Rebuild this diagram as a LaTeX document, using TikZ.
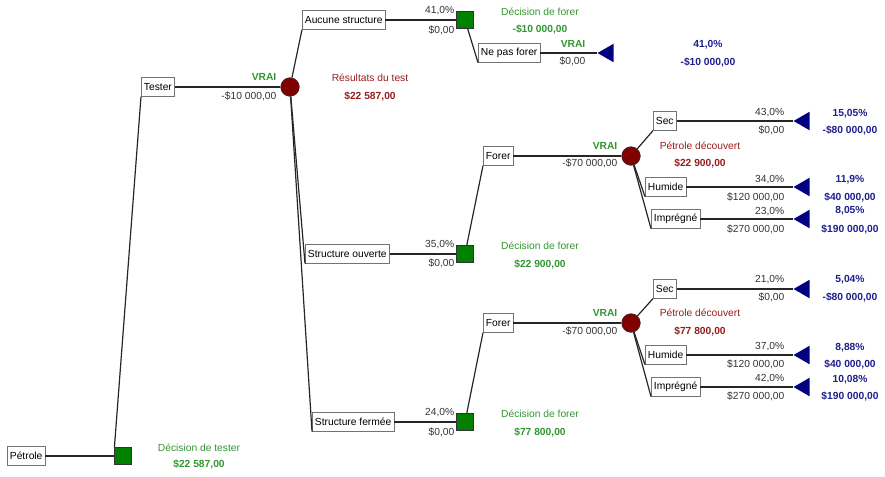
\documentclass[tikz,border=0pt]{standalone}
\usepackage{fontspec}
\usetikzlibrary{shapes.geometric}
\setmainfont{Liberation Sans}
\definecolor{dg}{RGB}{0,128,0}
\definecolor{tg}{RGB}{50,150,50}
\definecolor{dr}{RGB}{128,0,0}
\definecolor{tr}{RGB}{150,30,30}
\definecolor{nv}{RGB}{0,0,128}
\definecolor{tb}{RGB}{30,30,140}
\begin{document}
\begin{tikzpicture}[x=0.75pt,y=-0.75pt,font=\fontsize{7.7}{9}\selectfont,
 box/.style={draw=black!55,fill=white,anchor=west,inner sep=2pt,minimum height=14pt},
 dec/.style={draw=black!80,fill=dg,minimum size=12.5pt,inner sep=0},
 cha/.style={circle,draw=black!80,fill=dr,minimum size=14pt,inner sep=0},
 ter/.style={draw=none,fill=nv,isosceles triangle,isosceles triangle apex angle=60,shape border rotate=180,minimum height=12pt,inner sep=0,anchor=apex},
 ln/.style={draw=black!85,line width=0.9pt},
 gl/.style={text=tg,font=\fontsize{7.7}{9}\selectfont\bfseries},
 gl2/.style={text=tg},
 rl/.style={text=tr},
 rl2/.style={text=tr,font=\fontsize{7.7}{9}\selectfont\bfseries},
 bl/.style={text=tb,font=\fontsize{7.7}{9}\selectfont\bfseries},
 val/.style={anchor=east,text=black!80}]
\useasboundingbox (0,0) rectangle (885,476);
% root
\node[box] (pet) at (7,456) {Pétrole};
\node[dec] (d0) at (123,456) {};
\draw[ln] (pet.east) -- (d0);
\node[gl2] (d0a) at (199,448) {Décision de tester};
\node[gl] (d0b) at (199,464) {\$22 587,00};
% tester
\node[box] (tes) at (141,87) {Tester};
\node[cha] (c1) at (290,87) {};
\draw[ln] (d0.north west) -- (tes.south west);
\draw[ln] (tes.east) -- (c1);
\node[gl,anchor=east] (v1) at (281,77) {VRAI};
\node[val] (v1b) at (281,96) {-\$10 000,00};
\node[rl] (c1a) at (370,78) {Résultats du test};
\node[rl2] (c1b) at (370,96) {\$22 587,00};
% aucune
\node[box] (auc) at (302,20) {Aucune structure};
\node[dec] (d1) at (465,20) {};
\draw[ln] (c1) -- (auc.south west);
\draw[ln] (auc.east) -- (d1);
\node[val] (p1) at (459,11) {41,0\%};
\node[val] (p1b) at (459,30) {\$0,00};
\node[gl2] (d1a) at (540,12) {Décision de forer};
\node[gl] (d1b) at (540,29) {-\$10 000,00};
\node[box] (npf) at (478,53) {Ne pas forer};
\node[ter] (t0) at (597,53) {};
\draw[ln] (d1) -- (npf.south west);
\draw[ln] (npf.east) -- (t0.apex);
\node[gl,anchor=east] (v0) at (590,44) {VRAI};
\node[val] (v0b) at (590,61) {\$0,00};
\node[bl] (r0a) at (708,45) {41,0\%};
\node[bl] (r0b) at (708,62) {-\$10 000,00};
% ouverte
\node[box] (ouv) at (305,254) {Structure ouverte};
\node[dec] (d2) at (465,254) {};
\draw[ln] (c1) -- (ouv.south west);
\draw[ln] (ouv.east) -- (d2);
\node[val] (p2) at (459,245) {35,0\%};
\node[val] (p2b) at (459,263) {\$0,00};
\node[gl2] (d2a) at (540,246) {Décision de forer};
\node[gl] (d2b) at (540,264) {\$22 900,00};
% fermee
\node[box] (fer) at (312,422) {Structure fermée};
\node[dec] (d3) at (465,422) {};
\draw[ln] (c1) -- (fer.south west);
\draw[ln] (fer.east) -- (d3);
\node[val] (p3) at (459,413) {24,0\%};
\node[val] (p3b) at (459,432) {\$0,00};
\node[gl2] (d3a) at (540,414) {Décision de forer};
\node[gl] (d3b) at (540,432) {\$77 800,00};
% forer 1
\node[box] (f1) at (483,156) {Forer};
\node[cha] (c2) at (631,156) {};
\draw[ln] (d2) -- (f1.south west);
\draw[ln] (f1.east) -- (c2);
\node[gl,anchor=east] (v2) at (622,146) {VRAI};
\node[val] (v2b) at (622,163) {-\$70 000,00};
\node[rl] (c2a) at (700,146) {Pétrole découvert};
\node[rl2] (c2b) at (700,163) {\$22 900,00};
\node[box] (s1) at (653,121) {Sec};
\node[box] (h1) at (645,187) {Humide};
\node[box] (i1) at (651,219) {Imprégné};
\node[ter] (t1) at (793,121) {};
\node[ter] (t2) at (793,187) {};
\node[ter] (t3) at (793,219) {};
\foreach \b/\t in {s1/t1,h1/t2,i1/t3}{\draw[ln] (c2) -- (\b.south west); \draw[ln] (\b.east) -- (\t.apex);}
\node[val] (q1) at (789,113) {43,0\%};
\node[val] (q1b) at (789,130) {\$0,00};
\node[val] (q2) at (789,180) {34,0\%};
\node[val] (q2b) at (789,197) {\$120 000,00};
\node[val] (q3) at (789,212) {23,0\%};
\node[val] (q3b) at (789,229) {\$270 000,00};
\node[bl] (r1) at (850,114) {15,05\%};
\node[bl] (r1b) at (850,130) {-\$80 000,00};
\node[bl] (r2) at (850,180) {11,9\%};
\node[bl] (r2b) at (850,197) {\$40 000,00};
\node[bl] (r3) at (850,211) {8,05\%};
\node[bl] (r3b) at (850,229) {\$190 000,00};
% forer 2
\node[box] (f2) at (483,323) {Forer};
\node[cha] (c3) at (631,323) {};
\draw[ln] (d3) -- (f2.south west);
\draw[ln] (f2.east) -- (c3);
\node[gl,anchor=east] (v3) at (622,313) {VRAI};
\node[val] (v3b) at (622,331) {-\$70 000,00};
\node[rl] (c3a) at (700,313) {Pétrole découvert};
\node[rl2] (c3b) at (700,331) {\$77 800,00};
\node[box] (s2) at (653,289) {Sec};
\node[box] (h2) at (645,355) {Humide};
\node[box] (i2) at (651,387) {Imprégné};
\node[ter] (t4) at (793,289) {};
\node[ter] (t5) at (793,355) {};
\node[ter] (t6) at (793,387) {};
\foreach \b/\t in {s2/t4,h2/t5,i2/t6}{\draw[ln] (c3) -- (\b.south west); \draw[ln] (\b.east) -- (\t.apex);}
\node[val] (q4) at (789,280) {21,0\%};
\node[val] (q4b) at (789,297) {\$0,00};
\node[val] (q5) at (789,347) {37,0\%};
\node[val] (q5b) at (789,364) {\$120 000,00};
\node[val] (q6) at (789,379) {42,0\%};
\node[val] (q6b) at (789,396) {\$270 000,00};
\node[bl] (r4) at (850,280) {5,04\%};
\node[bl] (r4b) at (850,297) {-\$80 000,00};
\node[bl] (r5) at (850,348) {8,88\%};
\node[bl] (r5b) at (850,364) {\$40 000,00};
\node[bl] (r6) at (850,380) {10,08\%};
\node[bl] (r6b) at (850,396) {\$190 000,00};
\end{tikzpicture}
\end{document}
